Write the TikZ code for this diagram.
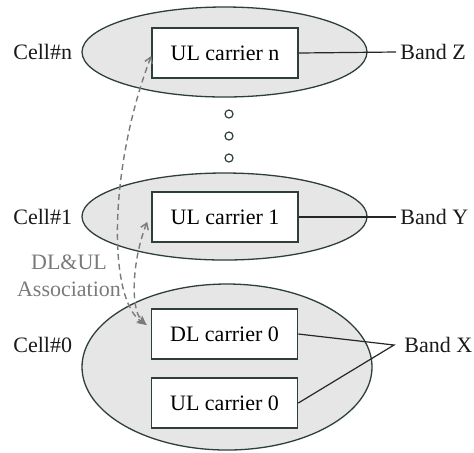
\documentclass[tikz,border=0pt]{standalone}
\usepackage{fontspec}
\setmainfont{Liberation Serif}
\usetikzlibrary{shapes.geometric,arrows.meta}
\definecolor{edge}{HTML}{2E3F3A}
\definecolor{cellfill}{HTML}{E6E6E6}
\definecolor{assoccol}{HTML}{7A7A7A}
\tikzset{
  cell/.style={ellipse, draw=edge, line width=0.65pt, fill=cellfill, inner sep=0pt},
  carrier/.style={rectangle, draw=edge, line width=0.8pt, fill=white, minimum width=73pt, minimum height=25pt, inner sep=0pt, font=\fontsize{11}{13}\selectfont},
  lbl/.style={inner sep=0pt, font=\fontsize{11}{13}\selectfont, text=black!90},
  bandline/.style={draw=black!85, line width=0.6pt},
  assoc/.style={draw=assoccol, line width=0.7pt, dash pattern=on 3pt off 2pt},
  dot/.style={circle, draw=edge, line width=0.6pt, fill=white, minimum size=4pt, inner sep=0pt}
}
\begin{document}
\begin{tikzpicture}[x=0.5pt,y=-0.5pt]
\useasboundingbox (0,0) rectangle (474,452);
% cells
\node[cell, minimum width=142.5pt, minimum height=45pt] (celln) at (224.5,52) {};
\node[cell, minimum width=142.5pt, minimum height=43.5pt] (cell1) at (224.5,216.5) {};
\node[cell, minimum width=145pt, minimum height=83pt] (cell0) at (227,367) {};
% carriers
\node[carrier] (uln) at (225,53) {UL carrier n};
\node[carrier] (ul1) at (225,217) {UL carrier 1};
\node[carrier] (dl0) at (224.5,334) {DL carrier 0};
\node[carrier] (ul0) at (224.5,403) {UL carrier 0};
% dots
\node[dot] (d1) at (229,114) {};
\node[dot] (d2) at (229,136) {};
\node[dot] (d3) at (229,158) {};
% cell labels
\node[lbl, anchor=west] (lcn) at (13,52) {Cell\#n};
\node[lbl, anchor=west] (lc1) at (13,217) {Cell\#1};
\node[lbl, anchor=west] (lc0) at (13,345) {Cell\#0};
% band labels
\node[lbl, anchor=west] (bz) at (400,52) {Band Z};
\node[lbl, anchor=west] (by) at (400,217) {Band Y};
\node[lbl, anchor=west] (bxl) at (404,345) {Band X};
\coordinate (bx) at (394,345);
\draw[bandline] (uln.east) -- ([xshift=-2pt]bz.west);
\draw[bandline] (ul1.east) -- ([xshift=-2pt]by.west);
\draw[bandline] (dl0.east) -- (bx) -- (ul0.east);
% association
\node[lbl, text=assoccol, align=center, font=\fontsize{11}{13.5}\selectfont] (assoc) at (69,276) {DL\&UL\\Association};
\coordinate (an) at ([yshift=-1.5pt]uln.west);
\coordinate (a1) at ([xshift=-2pt,yshift=-2.5pt]ul1.west);
\coordinate (a0) at ([xshift=-2pt,yshift=4.5pt]dl0.west);
\draw[assoc, {Straight Barb[length=3pt,width=4pt]}-{Stealth[length=5pt,width=4pt]}] (an) .. controls (108,170) and (108,300) .. (a0);
\draw[assoc, {Straight Barb[length=3pt,width=4pt]}-{Stealth[length=5pt,width=4pt]}] (a1) .. controls (132,260) and (130,310) .. (a0);
\end{tikzpicture}
\end{document}
